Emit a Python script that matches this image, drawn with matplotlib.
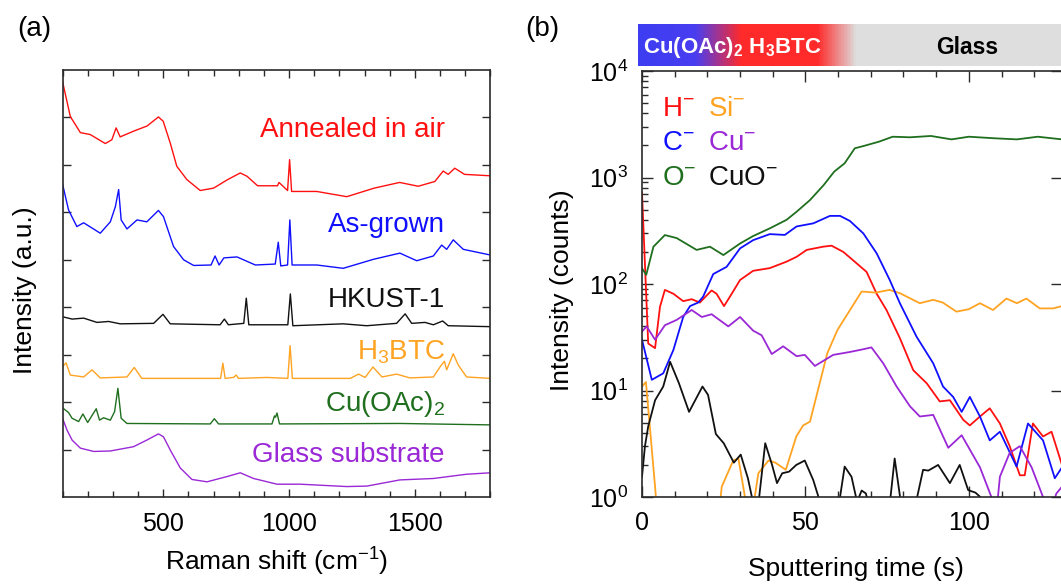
import numpy as np
import matplotlib
matplotlib.use("Agg")
import matplotlib.pyplot as plt
from matplotlib.colors import LinearSegmentedColormap
from matplotlib.ticker import MultipleLocator, LogLocator, NullFormatter, FixedLocator

# ---- panel (a): Raman spectra (stacked, offsets included) ----
annealed_x = [100, 131, 171, 210, 270, 296, 313, 329, 382, 436, 481, 500, 528, 554, 594, 647, 700, 756,
              806, 833, 875, 954, 960, 994, 1002, 1010, 1110, 1229, 1338, 1439, 1513, 1579, 1612, 1632,
              1658, 1697, 1800]
annealed_y = [8.76, 8.02, 7.68, 7.64, 7.45, 7.53, 7.78, 7.59, 7.71, 7.82, 8.01, 7.92, 7.46, 6.97, 6.69,
              6.46, 6.51, 6.69, 6.83, 6.76, 6.56, 6.56, 6.63, 6.46, 7.11, 6.44, 6.44, 6.33, 6.51, 6.63,
              6.55, 6.65, 6.87, 6.80, 6.93, 6.80, 6.77]

asgrown_x = [100, 124, 157, 184, 250, 290, 310, 323, 333, 356, 396, 435, 481, 501, 541, 581, 621, 690,
             706, 722, 741, 793, 866, 945, 957, 967, 994, 1003, 1012, 1110, 1215, 1335, 1440, 1507, 1573,
             1606, 1626, 1652, 1692, 1800]
asgrown_y = [6.60, 6.05, 5.70, 5.78, 5.56, 5.80, 6.12, 6.48, 5.84, 5.65, 5.84, 5.80, 6.04, 5.91, 5.28,
             5.00, 4.88, 4.89, 5.08, 4.89, 5.04, 5.06, 4.89, 4.91, 5.37, 4.87, 4.89, 5.84, 4.89, 4.89,
             4.82, 5.01, 5.14, 4.98, 5.08, 5.31, 5.22, 5.42, 5.22, 5.10]

hkust_x = [100, 138, 184, 237, 283, 329, 462, 499, 528, 726, 743, 759, 820, 830, 840, 995, 1005, 1015,
           1215, 1308, 1427, 1461, 1487, 1540, 1573, 1610, 1632, 1800]
hkust_y = [3.80, 3.75, 3.77, 3.68, 3.70, 3.65, 3.66, 3.85, 3.65, 3.63, 3.75, 3.63, 3.66, 4.19, 3.63,
           3.63, 4.28, 3.61, 3.65, 3.61, 3.66, 3.86, 3.66, 3.68, 3.63, 3.71, 3.61, 3.59]

h3btc_x = [100, 114, 131, 184, 217, 250, 356, 385, 415, 728, 737, 746, 779, 790, 799, 912, 995, 1004,
           1013, 1243, 1276, 1302, 1333, 1369, 1427, 1480, 1573, 1602, 1617, 1626, 1652, 1672, 1705, 1800]
h3btc_y = [2.74, 2.83, 2.57, 2.53, 2.68, 2.51, 2.53, 2.73, 2.50, 2.50, 2.82, 2.50, 2.52, 2.57, 2.50,
           2.52, 2.50, 3.19, 2.50, 2.50, 2.59, 2.52, 2.74, 2.53, 2.59, 2.51, 2.53, 2.76, 2.86, 2.68,
           3.02, 2.78, 2.53, 2.50]

cuoac_x = [100, 124, 138, 164, 181, 200, 234, 247, 263, 290, 307, 320, 333, 356, 687, 703, 720, 932,
           942, 946, 952, 962, 1440, 1800]
cuoac_y = [1.88, 1.78, 1.66, 1.59, 1.75, 1.57, 1.86, 1.62, 1.67, 1.62, 1.80, 2.29, 1.66, 1.55, 1.54,
           1.65, 1.54, 1.54, 1.71, 1.68, 1.77, 1.54, 1.55, 1.52]

glass_x = [100, 118, 138, 171, 224, 290, 382, 435, 481, 501, 528, 568, 614, 674, 753, 806, 859, 952,
           1044, 1229, 1309, 1440, 1573, 1705, 1800]
glass_y = [1.66, 1.41, 1.20, 1.03, 0.96, 0.97, 1.06, 1.20, 1.33, 1.27, 0.99, 0.61, 0.37, 0.32, 0.43,
           0.51, 0.39, 0.27, 0.27, 0.22, 0.23, 0.36, 0.39, 0.48, 0.51]

raman_names = ["Annealed in air", "As-grown", "HKUST-1", "H$_3$BTC", "Cu(OAc)$_2$", "Glass substrate"]

# ---- panel (b): ToF-SIMS depth profile (counts; <1 lies below the axis) ----
h_t = [0, 1.9, 4.0, 5.5, 7.0, 9.6, 12.6, 15.2, 17.7, 21.3, 22.8, 25.1, 26.9, 30.0, 34.0, 39.1, 44.2,
       47.3, 50.4, 55.4, 58.0, 61.6, 65.7, 68.7, 71.8, 74.8, 78.9, 83.0, 87.1, 91.1, 94.2, 98.3, 100.3,
       103.4, 106.4, 109.5, 112.5, 115.6, 117.1, 119.6, 122.7, 125.3, 128.5]
h_i = [720, 27.6, 25, 61, 88, 81, 69, 72, 67, 87, 81, 62, 76, 109, 133, 141, 162, 180, 209, 224, 229,
       200, 156, 130, 81, 57, 31, 15.5, 11.7, 7.9, 8.1, 5.3, 4.7, 5.7, 6.8, 4.9, 3.0, 1.6, 1.6, 4.9,
       3.7, 4.1, 2.0]

c_t = [0, 3.0, 6.5, 9.6, 12.6, 14.7, 17.2, 18.7, 21.8, 25.9, 30.0, 34.0, 39.1, 43.7, 47.3, 52.4, 57.5,
       60.6, 63.6, 67.7, 71.8, 75.8, 78.9, 84.0, 89.1, 92.1, 95.2, 97.8, 100.3, 103.4, 106.4, 109.5,
       114.6, 118.1, 122.7, 126.3, 128.5]
c_i = [30, 12.6, 14.5, 24, 49, 62, 67, 76, 124, 145, 216, 258, 294, 289, 347, 371, 436, 436, 391, 299,
       194, 109, 66, 32, 18, 10.9, 8.7, 6.3, 8.7, 5.7, 3.4, 4.1, 1.93, 4.9, 3.4, 1.5, 1.9]

o_t = [0, 1.3, 3.5, 7.0, 10.6, 16.7, 20.8, 24.9, 30.0, 34.0, 39.1, 44.2, 47.3, 51.4, 55.6, 58.8, 62.0,
       65.1, 68.3, 72.5, 76.7, 82.0, 88.4, 94.7, 100.0, 108.4, 114.7, 121.1, 128.5]
o_i = [140, 122, 224, 288, 270, 209, 224, 187, 240, 282, 333, 400, 477, 614, 850, 1135, 1360, 1880,
       1995, 2170, 2415, 2385, 2455, 2280, 2415, 2330, 2280, 2415, 2280]

si_t = [0, 1.2, 4.0, 5.0, 23.0, 24.4, 27.9, 29.5, 31.5, 33.0, 35.6, 38.7, 40.8, 44.0, 47.2, 49.3, 51.4,
        54.6, 56.7, 59.8, 63.0, 67.2, 71.5, 75.7, 78.9, 85.0, 89.1, 92.0, 96.2, 100.0, 103.4, 107.4,
        111.5, 114.7, 117.6, 121.7, 125.8, 128.5]
si_i = [10.9, 12, 1.25, 0.5, 0.5, 1.25, 2.2, 2.3, 1.0, 0.5, 1.67, 2.2, 2.1, 1.8, 3.7, 4.7, 5.1, 12.5,
        22.4, 37, 53, 85, 83, 88, 82, 66, 71, 67, 55, 58, 66, 57, 73, 66, 73, 59, 59, 62]

cu_t = [0, 1.4, 4.0, 7.0, 10.6, 15.2, 18.3, 21.3, 26.4, 30.0, 34.0, 36.6, 39.7, 43.2, 47.3, 49.8, 52.9,
        58.5, 63.6, 67.7, 70.2, 73.8, 77.9, 82.0, 85.0, 89.1, 93.7, 97.8, 103.4, 106.9, 108.2, 109.5,
        112.5, 115.6, 119.2, 122.7, 124.5, 126.8, 128.5]
cu_i = [35.7, 40, 30, 41, 46, 57, 49, 52, 40, 49, 36.5, 33, 22, 26, 21, 21.6, 17, 21.6, 23, 24.4, 25.4,
        18, 10.9, 7.1, 5.7, 5.9, 2.9, 3.8, 1.9, 1.0, 0.6, 1.55, 2.6, 3.0, 1.9, 1.0, 0.7, 1.08, 1.25]

cuo_t = [0, 0.9, 1.9, 4.0, 6.5, 8.6, 11.3, 14.4, 18.5, 20.2, 22.6, 25.0, 28.1, 30.2, 32.4, 34.3, 35.5,
         37.7, 39.8, 41.3, 42.9, 45.0, 47.2, 49.8, 52.4, 54.0, 56.0, 59.5, 62.0, 64.1, 65.8, 67.2, 68.5,
         70.0, 75.5, 77.3, 79.4, 83.5, 86.0, 87.6, 90.6, 94.2, 97.2, 99.8, 102.0, 103.5, 105.0]
cuo_i = [1.55, 3.0, 4.6, 8.1, 10.9, 18.6, 11.7, 6.3, 10.9, 9.1, 3.9, 3.2, 2.1, 2.5, 1.5, 0.8, 0.8, 3.2,
         2.0, 1.35, 1.67, 1.73, 2.0, 2.2, 1.44, 1.0, 0.6, 0.6, 1.93, 1.55, 0.9, 1.15, 1.08, 0.7, 0.7,
         2.3, 0.8, 0.8, 1.8, 1.77, 2.0, 1.35, 2.0, 1.16, 1.1, 1.0, 0.6]

ion_names = ["H$^{-}$", "Si$^{-}$", "C$^{-}$", "Cu$^{-}$", "O$^{-}$", "CuO$^{-}$"]

RED, BLUE, BLACK = "#ff1010", "#1010ff", "#111111"
ORANGE, GREEN, PURPLE = "#ffa322", "#1f6f1f", "#9a28d6"

W, H = 1061, 587
plt.rcParams["font.family"] = ["Liberation Sans", "DejaVu Sans"]
plt.rcParams["mathtext.fontset"] = "custom"
plt.rcParams["mathtext.rm"] = "Liberation Sans"
plt.rcParams["mathtext.it"] = "Liberation Sans:italic"
plt.rcParams["mathtext.bf"] = "Liberation Sans:bold"


def fx(px):
    return px / W


def fy(py):
    return 1 - py / H


def style_spines(ax):
    for sp in ax.spines.values():
        sp.set_linewidth(1.2)
        sp.set_color("#2a2a2a")


fig = plt.figure(figsize=(W / 100, H / 100), dpi=100)

# ---------------- (a) ----------------
ax_a = fig.add_axes([fx(62.5), fy(497), (490.5 - 62.5) / W, (497 - 70) / H])
spectra = [(annealed_x, annealed_y, RED), (asgrown_x, asgrown_y, BLUE), (hkust_x, hkust_y, BLACK),
           (h3btc_x, h3btc_y, ORANGE), (cuoac_x, cuoac_y, GREEN), (glass_x, glass_y, PURPLE)]
for xs, ys, col in spectra:
    ax_a.plot(xs, ys, color=col, lw=1.0)

ax_a.set_xlim(100, 1800)
ax_a.set_ylim(0, 9)
ax_a.xaxis.set_major_locator(MultipleLocator(500))
ax_a.xaxis.set_minor_locator(MultipleLocator(100))
ax_a.yaxis.set_major_locator(FixedLocator([1, 2, 3, 4, 5, 6, 7, 8]))
ax_a.yaxis.set_major_formatter(NullFormatter())
ax_a.tick_params(which="both", direction="in", top=True, right=True, width=1.0, color="#2a2a2a")
ax_a.tick_params(which="major", length=6, labelsize=18, pad=11)
ax_a.tick_params(which="minor", length=4)
style_spines(ax_a)
ax_a.set_xlabel("Raman shift (cm$^{-1}$)", fontsize=19)
ax_a.xaxis.set_label_coords(0.5, -0.115)
ax_a.set_ylabel("Intensity (a.u.)", fontsize=19)
ax_a.yaxis.set_label_coords(-0.06, 0.485)

label_cols = [RED, BLUE, BLACK, ORANGE, GREEN, PURPLE]
label_base = [137, 232, 307, 360, 411, 462]
for name, col, yb in zip(raman_names, label_cols, label_base):
    fig.text(fx(445), fy(yb), name, color=col, fontsize=20, ha="right", va="baseline")

fig.text(fx(17), fy(29), "(a)", fontsize=20, va="center", ha="left")

# ---------------- (b) ----------------
ax_b = fig.add_axes([fx(642), fy(497), (1062 - 642) / W, (497 - 71) / H])
profiles = [(h_t, h_i, RED), (si_t, si_i, ORANGE), (c_t, c_i, BLUE),
            (cu_t, cu_i, PURPLE), (o_t, o_i, GREEN), (cuo_t, cuo_i, BLACK)]
for ts, vs, col in profiles:
    ax_b.plot(ts, vs, color=col, lw=1.3)

ax_b.set_yscale("log")
ax_b.set_xlim(0, 128.5)
ax_b.set_ylim(1, 1e4)
ax_b.xaxis.set_major_locator(MultipleLocator(50))
ax_b.xaxis.set_minor_locator(MultipleLocator(10))
ax_b.yaxis.set_major_locator(LogLocator(base=10, numticks=10))
ax_b.yaxis.set_minor_locator(LogLocator(base=10, subs=np.arange(2, 10), numticks=20))
ax_b.yaxis.set_minor_formatter(NullFormatter())
ax_b.tick_params(which="both", direction="in", top=True, right=True, width=1.0, color="#2a2a2a")
ax_b.tick_params(which="major", length=8, labelsize=18, pad=10)
ax_b.tick_params(which="minor", length=4.5)
ax_b.tick_params(axis="y", which="minor", right=False)
style_spines(ax_b)
ax_b.set_xlabel("Sputtering time (s)", fontsize=19)
ax_b.xaxis.set_label_coords(0.51, -0.14)
ax_b.set_ylabel("Intensity (counts)", fontsize=19)
ax_b.yaxis.set_label_coords(-0.162, 0.486)

leg_cols = [RED, ORANGE, BLUE, PURPLE, GREEN, BLACK]
for k, (name, col) in enumerate(zip(ion_names, leg_cols)):
    col_x = 662 if k % 2 == 0 else 708
    row_y = [116, 150, 185][k // 2]
    fig.text(fx(col_x), fy(row_y), name, color=col, fontsize=20, ha="left", va="baseline")

fig.text(fx(525), fy(29), "(b)", fontsize=20, va="center", ha="left")

# layer bar above panel (b)
ax_bar = fig.add_axes([fx(638), fy(66), (1075 - 638) / W, (66 - 23.5) / H])
bar_cmap = LinearSegmentedColormap.from_list(
    "layers",
    [(0.0, "#3d3df2"), (0.13, "#4a3ef0"), (0.235, "#ff2a2a"),
     (0.41, "#ff2a2a"), (0.50, "#dedede"), (1.0, "#dedede")])
ax_bar.imshow(np.linspace(0, 1, 400)[None, :], aspect="auto", cmap=bar_cmap,
              extent=(0, 1, 0, 1))
ax_bar.set_axis_off()
fig.text(fx(643), fy(53), r"Cu(OAc)$_\mathbf{2}$ H$_\mathbf{3}$BTC", color="white",
         fontsize=16, fontweight="bold", ha="left", va="baseline")
fig.text(fx(967), fy(54), "Glass", color="black", fontsize=16.5, fontweight="bold",
         ha="center", va="baseline")

fig.savefig("out.png", dpi=100)
